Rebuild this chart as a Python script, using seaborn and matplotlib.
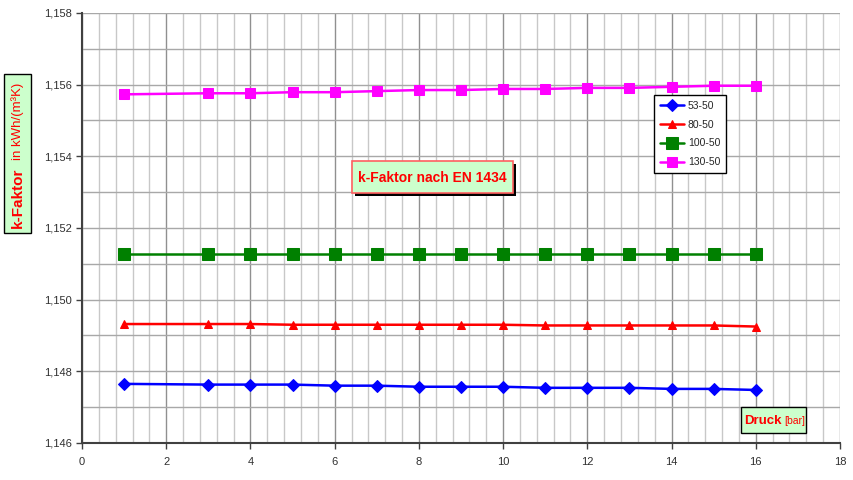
import matplotlib
matplotlib.use("Agg")
import matplotlib.pyplot as plt
from matplotlib.patches import Rectangle
from matplotlib.ticker import MultipleLocator, FuncFormatter
import seaborn as sns
import pandas as pd

# Druck in bar
druck = [1, 3, 4, 5, 6, 7, 8, 9, 10, 11, 12, 13, 14, 15, 16]

k_53_50 = [1.14765, 1.14763, 1.14763, 1.14763, 1.14760, 1.14760, 1.14757, 1.14757,
           1.14757, 1.14754, 1.14754, 1.14754, 1.14751, 1.14751, 1.14748]
k_80_50 = [1.14932, 1.14932, 1.14932, 1.14930, 1.14930, 1.14930, 1.14930, 1.14930,
           1.14930, 1.14928, 1.14928, 1.14928, 1.14928, 1.14928, 1.14925]
k_100_50 = [1.15127] * 15
k_130_50 = [1.15573, 1.15576, 1.15576, 1.15579, 1.15579, 1.15582, 1.15585, 1.15585,
            1.15588, 1.15588, 1.15591, 1.15591, 1.15594, 1.15597, 1.15597]

serien = ["53-50", "80-50", "100-50", "130-50"]
werte = [k_53_50, k_80_50, k_100_50, k_130_50]
farben = ["#0000FF", "#FF0000", "#008000", "#FF00FF"]
marker = ["D", "^", "s", "s"]
marker_gr = [6.5, 6, 8, 7]

df = pd.DataFrame({
    "Druck": druck * len(serien),
    "k": [v for w in werte for v in w],
    "Serie": [s for s in serien for _ in druck],
})

sns.set_style("white")
plt.rcParams["font.family"] = ["Liberation Sans", "DejaVu Sans"]

W, H = 854, 480
fig = plt.figure(figsize=(W / 100, H / 100), dpi=100)
ax = fig.add_axes([82 / W, 37 / H, (840 - 82) / W, (443 - 13) / H])


def fx(px):
    return px / W


def fy(py):
    return 1 - py / H


handles = []
for s, c, m, ms in zip(serien, farben, marker, marker_gr):
    sub = df[df["Serie"] == s]
    sns.lineplot(data=sub, x="Druck", y="k", ax=ax, color=c, marker=m,
                 markersize=ms, markeredgecolor=c, linewidth=1.8, legend=False,
                 zorder=3)
    handles.append(ax.lines[-1])

ax.set_xlim(0, 18)
ax.set_ylim(1.146, 1.158)
ax.xaxis.set_major_locator(MultipleLocator(2))
ax.xaxis.set_minor_locator(MultipleLocator(0.4))
ax.yaxis.set_major_locator(MultipleLocator(0.002))
ax.yaxis.set_minor_locator(MultipleLocator(0.001))
ax.yaxis.set_major_formatter(FuncFormatter(lambda v, p: f"{v:.3f}".replace(".", ",")))
ax.xaxis.set_major_formatter(FuncFormatter(lambda v, p: f"{v:.0f}"))

ax.grid(which="major", axis="x", color="#909090", linewidth=1.0, zorder=0)
ax.grid(which="minor", axis="x", color="#C8C8C8", linewidth=1.0, zorder=0)
ax.grid(which="both", axis="y", color="#A8A8A8", linewidth=1.0, zorder=0)
ax.set_axisbelow(True)

for side in ["top", "right"]:
    ax.spines[side].set_visible(False)
for side in ["left", "bottom"]:
    ax.spines[side].set_color("#404040")
    ax.spines[side].set_linewidth(1.5)

ax.tick_params(axis="both", which="major", labelsize=8, labelcolor="#303030",
               direction="out", length=4, width=1, color="#404040", left=True, bottom=True)
ax.tick_params(axis="y", which="minor", left=False)
ax.tick_params(axis="x", which="minor", bottom=False)
ax.tick_params(axis="x", pad=6)
ax.set_xlabel("")
ax.set_ylabel("")

leg = ax.legend(handles, serien, loc="upper left", bbox_to_anchor=(fx(654), fy(95)),
                bbox_transform=fig.transFigure, fontsize=7.5, frameon=True, fancybox=False,
                edgecolor="black", framealpha=1, handlelength=2.3, handletextpad=0.4,
                labelspacing=0.85, borderpad=0.55, borderaxespad=0)
leg.get_frame().set_linewidth(1.0)

# Diagrammtitel in einem Kasten mit Schatten
fig.patches.append(Rectangle((fx(355), fy(196)), 161 / W, 32 / H, transform=fig.transFigure,
                             fc="black", ec="black", lw=0, zorder=1))
fig.patches.append(Rectangle((fx(352), fy(193)), 161 / W, 32 / H, transform=fig.transFigure,
                             fc="#CCFFCC", ec="#FF6060", lw=1.2, zorder=2))
fig.text(fx(432.5), fy(177.5), "k-Faktor nach EN 1434", ha="center", va="center",
         fontsize=10, fontweight="bold", color="#FF0000", zorder=3)

# Beschriftung der y-Achse
fig.patches.append(Rectangle((fx(4), fy(233)), 27 / W, 159 / H,
                             transform=fig.transFigure, fc="#CCFFCC", ec="black",
                             lw=1.0, zorder=1))
fig.text(fx(17.5), fy(198), "k-Faktor", rotation=90, ha="center", va="center",
         color="#FF0000", fontsize=11, fontweight="bold", zorder=2)
fig.text(fx(17.5), fy(121), "in kWh/(m³K)", rotation=90, ha="center",
         va="center", color="#FF0000", fontsize=9.5, zorder=2)

# Beschriftung der x-Achse
fig.patches.append(Rectangle((fx(741), fy(433)), 65 / W, 26 / H,
                             transform=fig.transFigure, fc="#CCFFCC", ec="black",
                             lw=1.0, zorder=1))
fig.text(fx(744), fy(421), "Druck", ha="left", va="center", color="#FF0000",
         fontsize=9.5, fontweight="bold", zorder=2)
fig.text(fx(784), fy(421), "[bar]", ha="left", va="center", color="#FF0000",
         fontsize=7.5, zorder=2)

fig.savefig("out.png", dpi=100)
